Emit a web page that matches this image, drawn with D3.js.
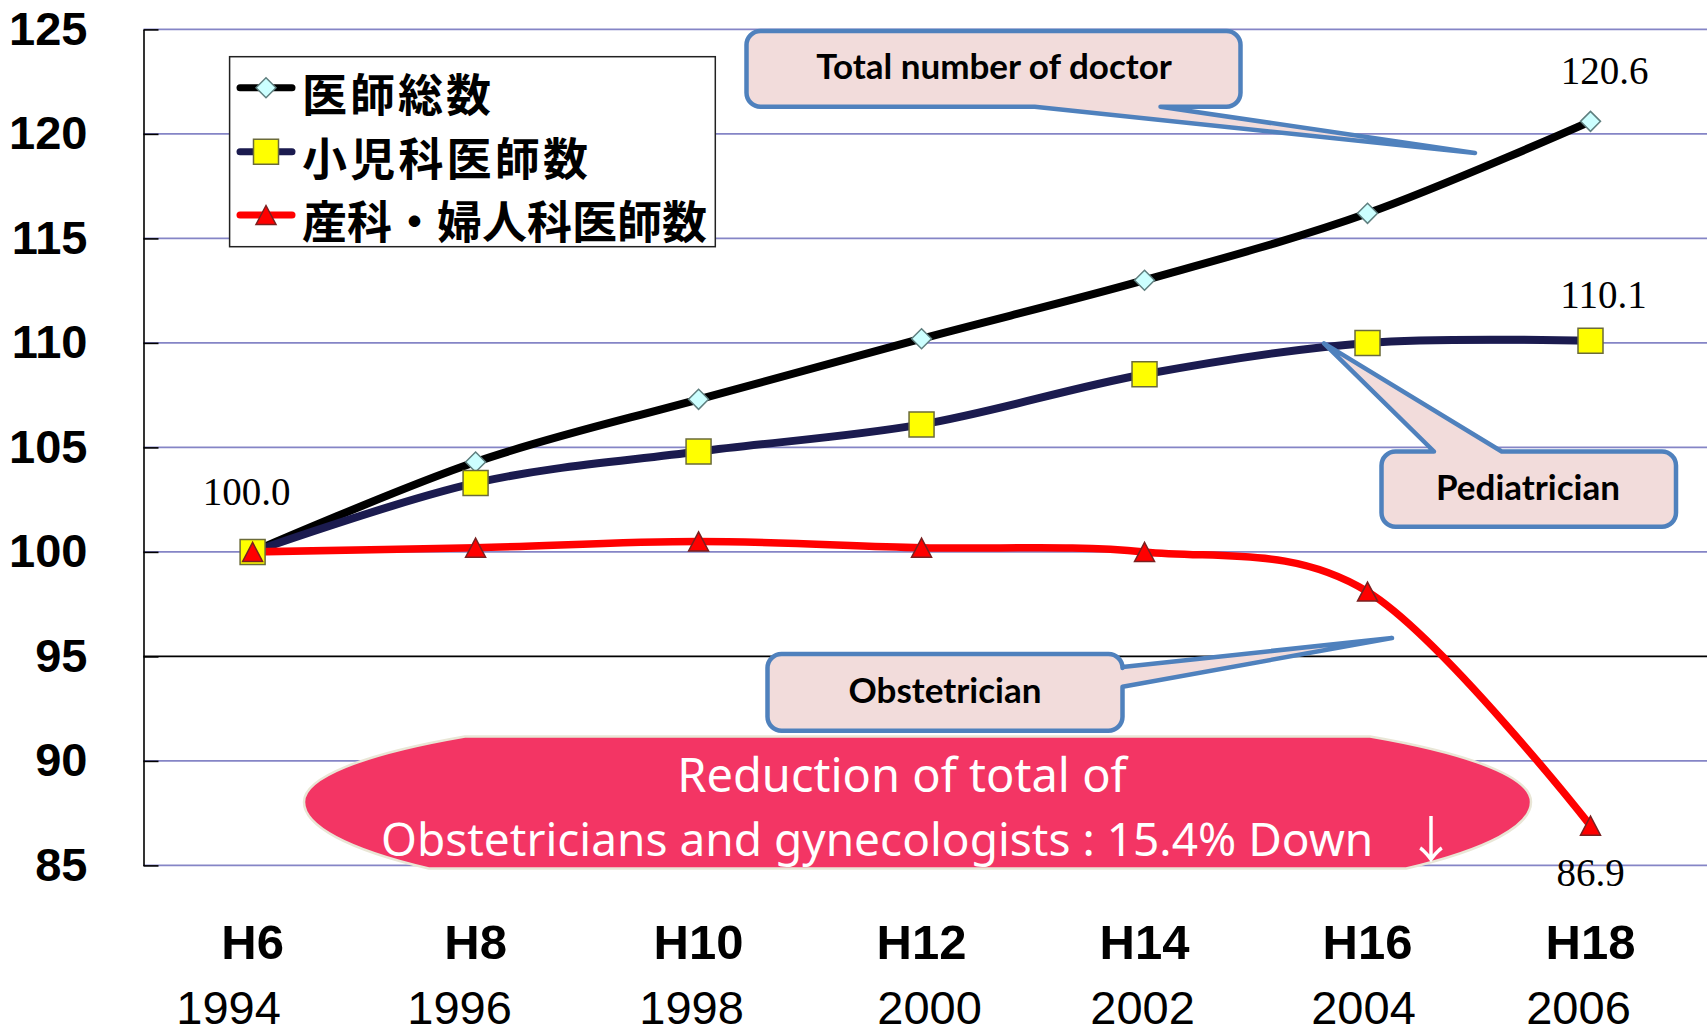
<!DOCTYPE html>
<html>
<head>
<meta charset="utf-8">
<script src="https://cdn.jsdelivr.net/npm/d3@7"></script>
<style>
  html, body { margin: 0; padding: 0; background: #fff; }
  svg { display: block; }
</style>
</head>
<body>
<svg id="chart" width="1707" height="1034"></svg>
<script>
// chart data
var categories = ["H6", "H8", "H10", "H12", "H14", "H16", "H18"];
var years = ["1994", "1996", "1998", "2000", "2002", "2004", "2006"];
var totalDoctors = [100.0, 104.3, 107.3, 110.2, 113.0, 116.2, 120.6];
var pediatricians = [100.0, 103.3, 104.8, 106.1, 108.5, 110.0, 110.1];
var obstetricians = [100.0, 100.2, 100.5, 100.2, 100.0, 98.1, 86.9];
var yTicks = [85, 90, 95, 100, 105, 110, 115, 120, 125];
var seriesNames = ["医師総数", "小児科医師数", "産科・婦人科医師数"];

var svg = d3.select("#chart");
var W = 1707, H = 1034;

var x = d3.scalePoint().domain(categories).range([252.6, 1590.5]);
var y = d3.scaleLinear().domain([85, 125]).range([865.4, 29.4]);
var axisX = 143.5;

// gridlines (95 is where the category axis crosses, drawn black)
svg.append("g").selectAll("line")
  .data(yTicks)
  .enter().append("line")
    .attr("x1", axisX).attr("x2", W)
    .attr("y1", function(d){ return y(d); })
    .attr("y2", function(d){ return y(d); })
    .attr("stroke", function(d){ return d === 95 ? "#000" : "#8585c6"; })
    .attr("stroke-width", 1.6);

// y axis with inward ticks
var yAxis = d3.axisLeft(y).tickValues(yTicks).tickSizeInner(-15).tickSizeOuter(0).tickPadding(56);
var ya = svg.append("g").attr("transform", "translate(" + axisX + ",0)").call(yAxis);
ya.select(".domain").attr("stroke", "#000").attr("stroke-width", 1.6);
ya.selectAll(".tick line").attr("stroke", "#000").attr("stroke-width", 1.6);
ya.selectAll(".tick text")
  .attr("font-family", "'Liberation Sans', Arial, sans-serif")
  .attr("font-weight", "bold")
  .attr("font-size", 47)
  .attr("fill", "#000");

// category labels (the year row sits a little off each category)
var yearNudge = [-24, -16, -7, 8, -2, -4, -12];
var xl = svg.append("g");
xl.selectAll("text.cat")
  .data(categories)
  .enter().append("text")
    .attr("class", "cat")
    .attr("x", function(d){ return x(d); })
    .attr("y", 942)
    .attr("dy", "0.35em")
    .attr("text-anchor", "middle")
    .attr("font-family", "'Liberation Sans', Arial, sans-serif")
    .attr("font-weight", "bold")
    .attr("font-size", 49)
    .text(function(d){ return d; });
xl.selectAll("text.year")
  .data(years)
  .enter().append("text")
    .attr("class", "year")
    .attr("x", function(d, i){ return x(categories[i]) + yearNudge[i]; })
    .attr("y", 1008)
    .attr("dy", "0.35em")
    .attr("text-anchor", "middle")
    .attr("font-family", "'Liberation Sans', Arial, sans-serif")
    .attr("font-size", 47)
    .text(function(d){ return d; });

// red summary shape: an ellipse cut flat at top and bottom,
// its lower half a bit fuller than the upper one
var ecx = 917.5, ecy = 802, erx = 613.5, eryTop = 97, eryBot = 110, etop = 736.5, ebot = 868.5;
function capX(dy, ry) { return erx * Math.sqrt(1 - (dy * dy) / (ry * ry)); }
var dxTop = capX(ecy - etop, eryTop), dxBot = capX(ebot - ecy, eryBot);
var ell = svg.append("g");
ell.append("path")
  .attr("d",
    "M" + (ecx - dxTop) + "," + etop +
    "L" + (ecx + dxTop) + "," + etop +
    "A" + erx + "," + eryTop + " 0 0 1 " + (ecx + erx) + "," + ecy +
    "A" + erx + "," + eryBot + " 0 0 1 " + (ecx + dxBot) + "," + ebot +
    "L" + (ecx - dxBot) + "," + ebot +
    "A" + erx + "," + eryBot + " 0 0 1 " + (ecx - erx) + "," + ecy +
    "A" + erx + "," + eryTop + " 0 0 1 " + (ecx - dxTop) + "," + etop + "Z")
  .attr("fill", "#f33564")
  .attr("stroke", "#e9e6d6")
  .attr("stroke-width", 2.5);
ell.append("text")
  .attr("x", 902).attr("y", 792)
  .attr("text-anchor", "middle")
  .attr("font-family", "'Noto Sans', sans-serif")
  .attr("font-size", 47)
  .attr("fill", "#fff")
  .text("Reduction of total of");
var l2 = ell.append("text")
  .attr("x", 381).attr("y", 856)
  .attr("font-family", "'Noto Sans', sans-serif")
  .attr("font-size", 46)
  .attr("fill", "#fff");
l2.append("tspan").text("Obstetricians and gynecologists : 15.4% Down");
l2.append("tspan")
  .attr("x", 1406)
  .attr("y", 858)
  .attr("font-family", "'Noto Sans CJK JP', sans-serif")
  .attr("font-weight", 400)
  .attr("font-size", 50)
  .text("↓");

// series
var series = [
  { name: seriesNames[0], values: totalDoctors, color: "#000", width: 8, marker: "diamond" },
  { name: seriesNames[1], values: pediatricians, color: "#1b1b4f", width: 8, marker: "square" },
  { name: seriesNames[2], values: obstetricians, color: "#ff0000", width: 7.5, marker: "triangle" }
];

var line = d3.line()
  .x(function(d, i){ return x(categories[i]); })
  .y(function(d){ return y(d); })
  .curve(d3.curveCatmullRom.alpha(0));

function markerPath(type) {
  if (type === "diamond") return "M0,-10L10,0L0,10L-10,0Z";
  if (type === "square") return "M-12.5,-12.5H12.5V12.5H-12.5Z";
  return "M0,-9.5L10,9.5L-10,9.5Z";
}
function markerFill(type) {
  return type === "diamond" ? "#ccffff" : (type === "square" ? "#ffff00" : "#ff0000");
}
function markerStroke(type) {
  return type === "diamond" ? "#5f7f7f" : (type === "square" ? "#6b6b3a" : "#7a2020");
}

series.forEach(function(s){
  svg.append("path")
    .datum(s.values)
    .attr("d", line)
    .attr("fill", "none")
    .attr("stroke", s.color)
    .attr("stroke-width", s.width)
    .attr("stroke-linecap", "round");
});
series.forEach(function(s){
  svg.append("g").selectAll("path")
    .data(s.values)
    .enter().append("path")
      .attr("transform", function(d, i){ return "translate(" + x(categories[i]) + "," + y(d) + ")"; })
      .attr("d", markerPath(s.marker))
      .attr("fill", markerFill(s.marker))
      .attr("stroke", markerStroke(s.marker))
      .attr("stroke-width", 1.5);
});

// data labels at the first and last points
var valueLabels = [
  { v: totalDoctors[0], i: 0, dx: -6, dy: -61 },
  { v: totalDoctors[6], i: 6, dx: 14, dy: -51 },
  { v: pediatricians[6], i: 6, dx: 13, dy: -46 },
  { v: obstetricians[6], i: 6, dx: 0, dy: 47 }
];
svg.append("g").selectAll("text")
  .data(valueLabels)
  .enter().append("text")
    .attr("x", function(d){ return x(categories[d.i]) + d.dx; })
    .attr("y", function(d){ return y(d.v) + d.dy; })
    .attr("dy", "0.35em")
    .attr("text-anchor", "middle")
    .attr("font-family", "'Liberation Serif', 'Times New Roman', serif")
    .attr("font-size", 39)
    .attr("fill", "#000")
    .text(function(d){ return d3.format(".1f")(d.v); });

// callout boxes: rounded rect with a wedge on one side
function calloutPath(x0, y0, x1, y1, r, side, a, b, tip) {
  var p = d3.path();
  p.moveTo(x0 + r, y0);
  if (side === "top") { p.lineTo(a, y0); p.lineTo(tip[0], tip[1]); p.lineTo(b, y0); }
  p.lineTo(x1 - r, y0);
  p.arcTo(x1, y0, x1, y0 + r, r);
  if (side === "right") { p.lineTo(x1, a); p.lineTo(tip[0], tip[1]); p.lineTo(x1, b); }
  p.lineTo(x1, y1 - r);
  p.arcTo(x1, y1, x1 - r, y1, r);
  if (side === "bottom") { p.lineTo(b, y1); p.lineTo(tip[0], tip[1]); p.lineTo(a, y1); }
  p.lineTo(x0 + r, y1);
  p.arcTo(x0, y1, x0, y1 - r, r);
  p.lineTo(x0, y0 + r);
  p.arcTo(x0, y0, x0 + r, y0, r);
  p.closePath();
  return p.toString();
}

var callouts = [
  { text: "Total number of doctor", box: [746.5, 31, 1240.5, 106.7], side: "bottom", a: 1034.7, b: 1160.5, tip: [1475, 153], tx: 994, ty: 79 },
  { text: "Pediatrician", box: [1381.5, 451.5, 1676, 526.8], side: "top", a: 1434, b: 1501.7, tip: [1324, 343.3], tx: 1528, ty: 500 },
  { text: "Obstetrician", box: [767.5, 654, 1122.5, 730.7], side: "right", a: 667, b: 686.7, tip: [1392, 638], tx: 945, ty: 703 }
];
var cg = svg.append("g").selectAll("g")
  .data(callouts)
  .enter().append("g");
cg.append("path")
  .attr("d", function(d){ return calloutPath(d.box[0], d.box[1], d.box[2], d.box[3], 14, d.side, d.a, d.b, d.tip); })
  .attr("fill", "#f2dcdb")
  .attr("stroke", "#4f81bd")
  .attr("stroke-width", 4.5)
  .attr("stroke-linejoin", "round");
cg.append("text")
  .attr("x", function(d){ return d.tx; })
  .attr("y", function(d){ return d.ty; })
  .attr("text-anchor", "middle")
  .attr("font-family", "Lato, 'Open Sans', sans-serif")
  .attr("font-weight", "bold")
  .attr("font-size", 35)
  .attr("fill", "#000")
  .text(function(d){ return d.text; });

// legend
var legendWidths = [189, 286, 405];
var lg = svg.append("g");
lg.append("rect")
  .attr("x", 229.6).attr("y", 56.7)
  .attr("width", 485.7).attr("height", 190)
  .attr("fill", "#fff")
  .attr("stroke", "#222")
  .attr("stroke-width", 1.5);
var rows = lg.selectAll("g.row")
  .data(series)
  .enter().append("g")
    .attr("class", "row")
    .attr("transform", function(d, i){ return "translate(0," + [87.7, 151.7, 215][i] + ")"; });
rows.append("line")
  .attr("x1", 240).attr("x2", 292)
  .attr("stroke", function(d){ return d.color; })
  .attr("stroke-width", 7)
  .attr("stroke-linecap", "round");
rows.append("path")
  .attr("transform", "translate(266,0)")
  .attr("d", function(d){ return markerPath(d.marker); })
  .attr("fill", function(d){ return markerFill(d.marker); })
  .attr("stroke", function(d){ return markerStroke(d.marker); })
  .attr("stroke-width", 1.5);
rows.append("text")
  .attr("x", 302)
  .attr("y", 8)
  .attr("dy", "0.36em")
  .attr("textLength", function(d, i){ return legendWidths[i]; })
  .attr("lengthAdjust", "spacing")
  .attr("font-family", "'Noto Sans CJK JP', sans-serif")
  .attr("font-weight", "bold")
  .attr("font-size", 45)
  .attr("fill", "#000")
  .text(function(d){ return d.name; });
</script>
</body>
</html>
